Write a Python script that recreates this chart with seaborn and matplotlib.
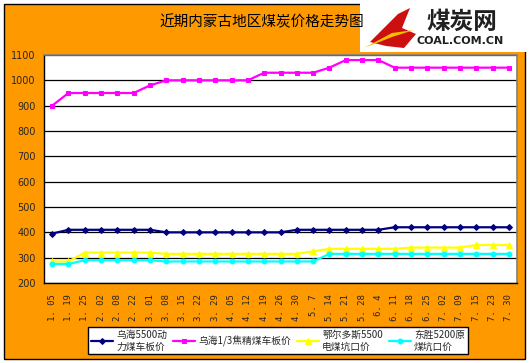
import numpy as np
import pandas as pd
import seaborn as sns
import matplotlib.pyplot as plt
from matplotlib.patches import Rectangle, Polygon

# data
dates = ["1. 05", "1. 19", "1. 25", "2. 02", "2. 08", "2. 22", "3. 01", "3. 08",
         "3. 15", "3. 22", "3. 29", "4. 05", "4. 12", "4. 19", "4. 26", "4. 30",
         "5. 7", "5. 14", "5. 21", "5. 28", "6. 4", "6. 11", "6. 18", "6. 25",
         "7. 02", "7. 09", "7. 15", "7. 23", "7. 30"]
wuhai_5500 = [395, 410, 410, 410, 410, 410, 410, 400, 400, 400, 400, 400, 400, 400, 400,
              410, 410, 410, 410, 410, 410, 420, 420, 420, 420, 420, 420, 420, 420]
wuhai_jiao = [900, 950, 950, 950, 950, 950, 980, 1000, 1000, 1000, 1000, 1000, 1000, 1030,
              1030, 1030, 1030, 1050, 1080, 1080, 1080, 1050, 1050, 1050, 1050, 1050,
              1050, 1050, 1050]
erdos_5500 = [285, 285, 320, 320, 320, 320, 320, 315, 315, 315, 315, 315, 315, 315, 315,
              315, 325, 335, 335, 335, 335, 335, 340, 340, 340, 340, 350, 350, 350]
dongsheng_5200 = [275, 275, 290, 290, 290, 290, 290, 285, 285, 285, 285, 285, 285, 285,
                  285, 285, 285, 315, 315, 315, 315, 315, 315, 315, 315, 315, 315, 315, 315]

series = [
    ("乌海5500动\n力煤车板价", wuhai_5500, "#000080", "D", 3),
    ("乌海1/3焦精煤车板价", wuhai_jiao, "#FF00FF", "s", 3),
    ("鄂尔多斯5500\n电煤坑口价", erdos_5500, "#FFFF00", "^", 4),
    ("东胜5200原\n煤坑口价", dongsheng_5200, "#00FFFF", "o", 3.5),
]

sns.set_style("white")
plt.rcParams["font.family"] = ["Noto Sans CJK SC", "DejaVu Sans"]

W, H = 530, 363
fig = plt.figure(figsize=(5.3, 3.63), dpi=100)
fig.patch.set_facecolor("white")

# orange panel with black border
fig.patches.append(Rectangle((4 / W, 1 - 359 / H), 521 / W, 355 / H, transform=fig.transFigure,
                             facecolor="#FF9900", edgecolor="black", linewidth=1, zorder=-10))

ax = fig.add_axes([44 / W, 1 - 283 / H, 473 / W, 228 / H])
ax.set_zorder(5)
ax.set_facecolor("white")
x = np.arange(len(dates))
for label, vals, color, marker, ms in series:
    df = pd.DataFrame({"x": x, "y": vals})
    sns.lineplot(data=df, x="x", y="y", ax=ax, color=color, marker=marker, markersize=ms,
                 markeredgecolor=color, linewidth=1.6, label=label)

ax.set_xlim(-0.5, len(dates) - 0.5)
ax.set_ylim(200, 1100)
ax.set_yticks(range(200, 1101, 100))
ax.yaxis.grid(True, color="black", linewidth=0.9)
ax.set_axisbelow(True)
ax.set_xticks(x)
ax.set_xticklabels(dates, rotation=90, fontsize=6.5, family="DejaVu Sans Mono")
ax.set_xticks(np.arange(-0.5, len(dates)), minor=True)
ax.tick_params(axis="x", which="major", length=0, pad=8)
ax.tick_params(axis="x", which="minor", direction="in", length=3, width=0.8, color="black")
ax.tick_params(axis="y", length=0, pad=6, labelsize=7)
for t in ax.get_yticklabels():
    t.set_family("DejaVu Sans")
ax.set_xlabel("")
ax.set_ylabel("")
for side in ["top", "right"]:
    ax.spines[side].set_color("#808080")
    ax.spines[side].set_linewidth(1.2)
for side in ["left", "bottom"]:
    ax.spines[side].set_color("black")
    ax.spines[side].set_linewidth(1.0)

leg = ax.legend(loc="upper left", bbox_to_anchor=(88 / W, 1 - 327 / H),
                bbox_transform=fig.transFigure, borderaxespad=0,
                ncol=4, frameon=True, fancybox=False, edgecolor="black", framealpha=1,
                fontsize=7, handlelength=2.3, handletextpad=0.3, columnspacing=0.6,
                borderpad=0.3, labelspacing=0.2)
leg.get_frame().set_linewidth(1.0)

# title
fig.text(262 / W, 1 - 22 / H, "近期内蒙古地区煤炭价格走势图", ha="center", va="center",
         fontsize=10.5, color="black")

# logo block
fig.patches.append(Rectangle((360 / W, 1 - 52 / H), 170 / W, 52 / H, transform=fig.transFigure,
                             facecolor="white", edgecolor="none", zorder=1))
fig.patches.append(Polygon([(370 / W, 1 - 42 / H), (398 / W, 1 - 14 / H), (410 / W, 1 - 8 / H),
                            (402 / W, 1 - 28 / H), (416 / W, 1 - 34 / H), (404 / W, 1 - 48 / H),
                            (386 / W, 1 - 46 / H)],
                           closed=True, transform=fig.transFigure, facecolor="#CC1010",
                           edgecolor="none", zorder=2))
fig.patches.append(Polygon([(364 / W, 1 - 48 / H), (392 / W, 1 - 33 / H), (414 / W, 1 - 30 / H),
                            (392 / W, 1 - 37 / H)],
                           closed=True, transform=fig.transFigure, facecolor="#F5C000",
                           edgecolor="none", zorder=2))
fig.text(462 / W, 1 - 22 / H, "煤炭网", ha="center", va="center", fontsize=17,
         fontweight="bold", color="#202020", zorder=3)
fig.text(460 / W, 1 - 41 / H, "COAL.COM.CN", ha="center", va="center", fontsize=8,
         fontweight="bold", color="#202020", family="DejaVu Sans", zorder=3)

fig.savefig("out.png", dpi=100, facecolor=fig.get_facecolor())
